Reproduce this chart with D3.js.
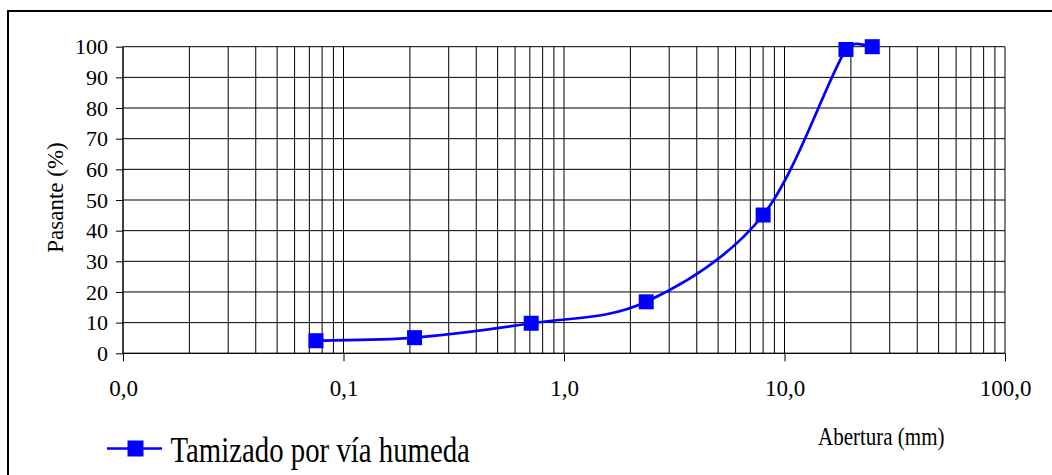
<!DOCTYPE html>
<html>
<head>
<meta charset="utf-8">
<script src="https://cdn.jsdelivr.net/npm/d3@7"></script>
<style>
  html, body { margin: 0; padding: 0; background: #fff; }
  svg { display: block; }
  text { font-family: "Liberation Serif", "Times New Roman", serif; fill: #000; }
</style>
</head>
<body>
<svg id="chart" width="1052" height="475"></svg>
<script>
// Curva granulométrica: abertura del tamiz (mm) vs. porcentaje pasante
const aberturas = [0.075, 0.21, 0.71, 2.36, 8, 19, 25];
const pasante   = [4.1, 5.1, 9.8, 16.8, 45.1, 99.1, 100];
const xTicks    = [0.01, 0.1, 1, 10, 100];
const xTickText = ["0,0", "0,1", "1,0", "10,0", "100,0"];
const yTicks    = [0, 10, 20, 30, 40, 50, 60, 70, 80, 90, 100];
const serie     = "Tamizado por vía humeda";

const svg = d3.select("#chart");
const W = 1052, H = 475;
const plot = { left: 123, right: 1005, top: 46.7, bottom: 353.3 };

const x = d3.scaleLog().domain([0.01, 100]).range([plot.left, plot.right]);
const y = d3.scaleLinear().domain([0, 100]).range([plot.bottom, plot.top]);

// marco exterior
svg.append("rect")
  .attr("x", 8).attr("y", 11)
  .attr("width", W + 20).attr("height", H + 20)
  .attr("fill", "none").attr("stroke", "#000").attr("stroke-width", 2);

// rejilla vertical logarítmica (1..9 por década)
const vGrid = [];
for (let e = -2; e < 2; e++) {
  for (let m = 1; m <= 9; m++) vGrid.push(m * Math.pow(10, e));
}
vGrid.push(100);
svg.append("g").selectAll("line").data(vGrid).join("line")
  .attr("x1", d => x(d)).attr("x2", d => x(d))
  .attr("y1", plot.top).attr("y2", plot.bottom)
  .attr("stroke", "#000").attr("stroke-width", 1);

// rejilla horizontal
svg.append("g").selectAll("line").data(yTicks).join("line")
  .attr("x1", plot.left).attr("x2", plot.right)
  .attr("y1", d => y(d)).attr("y2", d => y(d))
  .attr("stroke", "#000").attr("stroke-width", 1);

// eje Y
const yAxis = d3.axisLeft(y).tickValues(yTicks).tickSize(7).tickPadding(8)
  .tickFormat(d3.format("d"));
const gy = svg.append("g").attr("transform", `translate(${plot.left},0)`).call(yAxis);
gy.select(".domain").remove();
gy.selectAll(".tick line").attr("stroke", "#000");
gy.selectAll(".tick text")
  .style("font-family", "'Liberation Serif', serif")
  .style("font-size", "22px").attr("fill", "#000");
svg.append("line")
  .attr("x1", plot.left).attr("x2", plot.left)
  .attr("y1", plot.top).attr("y2", plot.bottom)
  .attr("stroke", "#000");

// eje X
const xAxis = d3.axisBottom(x).tickValues(xTicks).tickSize(8).tickPadding(18)
  .tickFormat((d, i) => xTickText[i]);
const gx = svg.append("g").attr("transform", `translate(0,${plot.bottom})`).call(xAxis);
gx.select(".domain").remove();
gx.selectAll(".tick line").attr("stroke", "#000");
gx.selectAll(".tick text")
  .style("font-family", "'Liberation Serif', serif")
  .style("font-size", "23px").attr("fill", "#000");
svg.append("line")
  .attr("x1", plot.left).attr("x2", plot.right)
  .attr("y1", plot.bottom).attr("y2", plot.bottom)
  .attr("stroke", "#000");

// títulos de ejes
svg.append("text")
  .attr("transform", "translate(63,197.5) rotate(-90)")
  .attr("text-anchor", "middle")
  .style("font-size", "23px")
  .text("Pasante (%)");

svg.append("text")
  .attr("transform", "translate(818,445) scale(1,1.18)")
  .style("font-size", "21px")
  .text("Abertura (mm)");

// trazo suavizado: Bézier cúbica (tangente = vecinos/6), con el brazo de
// control limitado a la mitad del tramo
function smoothPath(p) {
  const dist = (a, b) => Math.hypot(b[0] - a[0], b[1] - a[1]);
  const ctrl = (base, from, to, seg, sign) => {
    let dx = (to[0] - from[0]) / 6, dy = (to[1] - from[1]) / 6;
    const len = Math.hypot(dx, dy), lim = seg / 2;
    if (len > lim && len > 0) { dx *= lim / len; dy *= lim / len; }
    return [base[0] + sign * dx, base[1] + sign * dy];
  };
  let d = `M${p[0][0]},${p[0][1]}`;
  for (let i = 0; i < p.length - 1; i++) {
    const p0 = p[Math.max(i - 1, 0)], p1 = p[i], p2 = p[i + 1], p3 = p[Math.min(i + 2, p.length - 1)];
    const seg = dist(p1, p2);
    const c1 = ctrl(p1, p0, p2, seg, 1);
    const c2 = ctrl(p2, p1, p3, seg, -1);
    d += `C${c1[0]},${c1[1]} ${c2[0]},${c2[1]} ${p2[0]},${p2[1]}`;
  }
  return d;
}

// serie
const pts = aberturas.map((a, i) => [x(a), y(pasante[i])]);
svg.append("path")
  .attr("d", smoothPath(pts))
  .attr("fill", "none").attr("stroke", "#0000ff").attr("stroke-width", 2.7);

const mk = 15;
svg.append("g").selectAll("rect").data(pts).join("rect")
  .attr("x", d => d[0] - mk / 2).attr("y", d => d[1] - mk / 2)
  .attr("width", mk).attr("height", mk)
  .attr("fill", "#0000ff");

// leyenda
const ly = 448.5;
svg.append("line")
  .attr("x1", 107).attr("x2", 162).attr("y1", ly).attr("y2", ly)
  .attr("stroke", "#0000ff").attr("stroke-width", 2.7);
svg.append("rect")
  .attr("x", 135.5 - 8).attr("y", ly - 8).attr("width", 16).attr("height", 16)
  .attr("fill", "#0000ff");
svg.append("text")
  .attr("transform", "translate(170.5,461.7) scale(1,1.26)")
  .style("font-size", "28.8px")
  .text(serie);
</script>
</body>
</html>
